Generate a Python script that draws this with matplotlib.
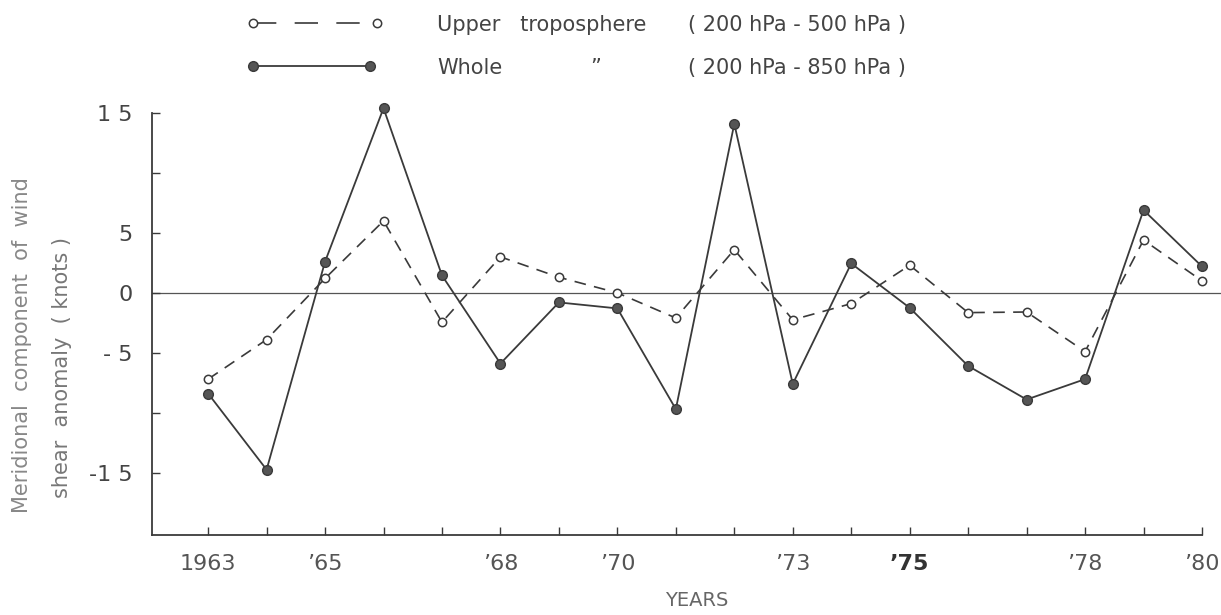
import matplotlib
matplotlib.use('Agg')
import matplotlib.pyplot as plt
from matplotlib.lines import Line2D

# values (knots)
years = list(range(1963, 1981))
upper_shear = [-7.2, -3.9, 1.2, 6.0, -2.45, 3.0, 1.3, 0.0, -2.1, 3.6,
               -2.25, -0.9, 2.3, -1.65, -1.6, -4.9, 4.4, 1.0]
whole_shear = [-8.4, -14.75, 2.6, 15.4, 1.45, -5.9, -0.8, -1.3, -9.7, 14.1,
               -7.6, 2.45, -1.25, -6.1, -8.9, -7.2, 6.9, 2.2]

ytick_vals = [15, 10, 5, 0, -5, -10, -15]
ytick_text = ['1 5', '', '5', '0', '- 5', '', '-1 5']
xtick_labels = {1963: '1963', 1965: '\u201965', 1968: '\u201968', 1970: '\u201970',
                1973: '\u201973', 1975: '\u201975', 1978: '\u201978', 1980: '\u201980'}

ink = '#3a3a3a'
W, H = 1221, 615
fig = plt.figure(figsize=(W / 100, H / 100), dpi=100)
ax = fig.add_axes([152 / W, 1 - 535 / H, 1050 / W, (535 - 113) / H])

# zero line runs past the last tick to the edge of the page
ax.plot([1962.04, 1980.35], [0, 0], color='#555555', lw=0.9, clip_on=False, zorder=1)

ax.plot(years, upper_shear, color=ink, lw=1.2, ls=(0, (7, 5)),
        marker='o', ms=6, mfc='white', mec=ink, mew=1.1, clip_on=False, zorder=3)
ax.plot(years, whole_shear, color=ink, lw=1.3, ls='-',
        marker='o', ms=7, mfc='#555555', mec=ink, mew=1.0, clip_on=False, zorder=4)

ax.set_xlim(1962.04, 1980)
ax.set_ylim(-20.2, 15)
ax.spines['top'].set_visible(False)
ax.spines['right'].set_visible(False)
for s in ('left', 'bottom'):
    ax.spines[s].set_color(ink)
    ax.spines[s].set_linewidth(1.3)

ax.set_yticks(ytick_vals)
ax.set_yticklabels(ytick_text)
ax.set_xticks(years)
ax.set_xticklabels([xtick_labels.get(y, '') for y in years])
ax.tick_params(direction='in', length=6, width=1, color=ink)
ax.tick_params(axis='y', pad=14, labelsize=16, labelcolor='#444444')
ax.tick_params(axis='x', pad=14, labelsize=16, labelcolor='#555555')
for lab in ax.get_xticklabels():
    if lab.get_text() == '\u201975':
        lab.set_fontweight('bold')
        lab.set_color('#333333')

fig.text(697 / W, 1 - 601 / H, 'YEARS', ha='center', va='center',
         fontsize=14, color='#666666')
fig.text(22 / W, 1 - 345 / H, 'Meridional  component  of  wind', rotation=90,
         ha='center', va='center', fontsize=15, color='#888888')
fig.text(62 / W, 1 - 368 / H, 'shear  anomaly  ( knots )', rotation=90,
         ha='center', va='center', fontsize=15, color='#777777')

# legend drawn by hand, as on the original sheet
fig.add_artist(Line2D([253 / W, 377 / W], [1 - 23 / H, 1 - 23 / H], transform=fig.transFigure,
                      color=ink, lw=1.2, ls=(0, (14, 11)), marker='o', ms=6,
                      mfc='white', mec=ink, mew=1.1))
fig.add_artist(Line2D([253 / W, 370 / W], [1 - 66 / H, 1 - 66 / H], transform=fig.transFigure,
                      color=ink, lw=1.3, marker='o', ms=7, mfc='#555555', mec=ink))
fig.text(437 / W, 1 - 25 / H, 'Upper   troposphere', ha='left', va='center',
         fontsize=15, color='#444444')
fig.text(688 / W, 1 - 25 / H, '( 200 hPa - 500 hPa )', ha='left', va='center',
         fontsize=15, color='#444444')
fig.text(437 / W, 1 - 68 / H, 'Whole', ha='left', va='center',
         fontsize=15, color='#444444')
fig.text(590 / W, 1 - 68 / H, '\u201d', ha='left', va='center',
         fontsize=15, color='#444444')
fig.text(688 / W, 1 - 68 / H, '( 200 hPa - 850 hPa )', ha='left', va='center',
         fontsize=15, color='#444444')

fig.savefig('out.png', dpi=100)
